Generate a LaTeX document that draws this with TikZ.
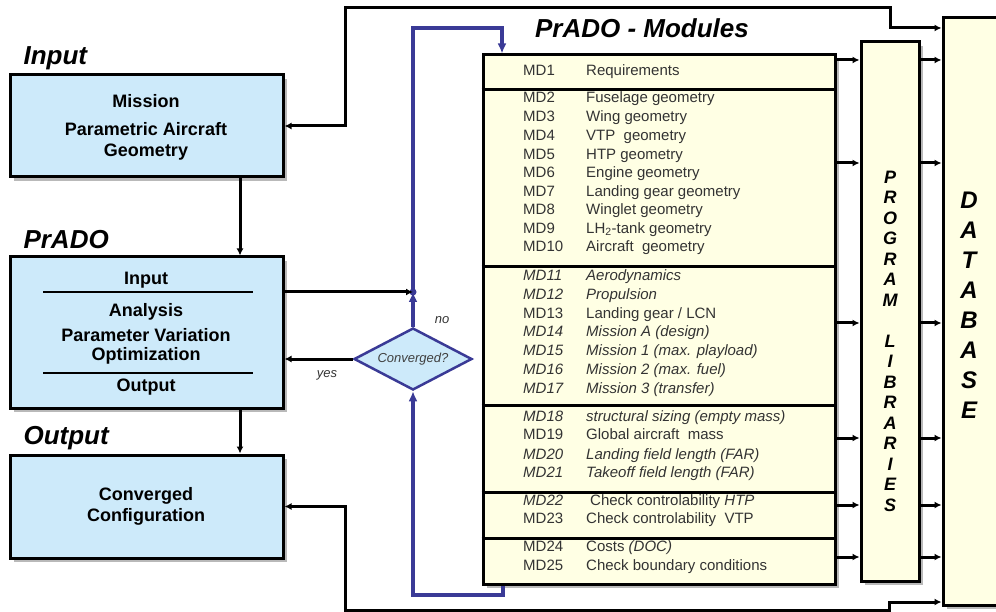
\documentclass[tikz,border=0pt]{standalone}
\usepackage{fontspec}
\setmainfont{Liberation Sans}
\usetikzlibrary{arrows.meta,shapes.geometric,shadows}
\definecolor{boxblue}{RGB}{205,234,250}
\definecolor{boxyellow}{RGB}{255,255,228}
\definecolor{loopblue}{RGB}{58,58,150}
\begin{document}
\begin{tikzpicture}[x=1pt,y=-1pt,
    shadowed/.style={drop shadow={shadow xshift=4pt,shadow yshift=-4pt,fill=black!55}},
    bluebox/.style={draw,line width=3pt,fill=boxblue,minimum width=273pt,shadowed},
    yellowbox/.style={draw,line width=3pt,fill=boxyellow,shadowed},
    grouplabel/.style={font=\fontsize{26}{28}\selectfont\bfseries\itshape,anchor=west},
    boxtext/.style={font=\fontsize{18}{20}\selectfont\bfseries},
    mdtext/.style={font=\fontsize{15}{17}\selectfont,text=black!80,anchor=west,inner sep=0pt,text height=10pt,text depth=3pt},
    libletter/.style={font=\fontsize{18}{20}\selectfont\bfseries\itshape},
    dbletter/.style={font=\fontsize{24}{26}\selectfont\bfseries\itshape},
    note/.style={font=\fontsize{13}{15}\selectfont\itshape,text=black!80},
    link/.style={line width=3pt,-{Latex[length=7pt,width=7pt]}},
    twolink/.style={line width=3pt,{Latex[length=7pt,width=7pt]}-{Latex[length=7pt,width=7pt]}},
    bluelink/.style={draw=loopblue,line width=4pt,-{Latex[length=10pt,width=9pt]}}]
  \useasboundingbox (0,0) rectangle (996,612);
  \clip (0,0) rectangle (996,612);
  % left column
  \node[grouplabel] (lblin) at (20,58) {Input};
  \node[bluebox,minimum height=102pt] (inbox) at (146.5,126) {};
  \node[boxtext] (mission) at (146,101) {Mission};
  \node[boxtext] (param) at (146,129) {Parametric Aircraft};
  \node[boxtext] (geom) at (146,152) {Geometry};

  \node[grouplabel] (lblprado) at (20,240) {PrADO};
  \node[bluebox,minimum height=151pt] (pradobox) at (146.5,332.5) {};
  \node[boxtext] (pin) at (146,280) {Input};
  \draw[line width=1.4pt] (43,292) -- (253,292);
  \node[boxtext] (anal) at (146,312) {Analysis};
  \node[boxtext] (pvar) at (146,335) {Parameter Variation};
  \node[boxtext] (opti) at (146,356) {Optimization};
  \draw[line width=1.4pt] (43,373) -- (253,373);
  \node[boxtext] (pout) at (146,387) {Output};

  \node[grouplabel] (lblout) at (20,438) {Output};
  \node[bluebox,minimum height=103pt] (outbox) at (146.5,506.5) {};
  \node[boxtext] (conv1) at (146,496) {Converged};
  \node[boxtext] (conv2) at (146,517) {Configuration};

  % vertical flow
  \coordinate (vx) at (240,0);
  \draw[link] (inbox.south -| vx) -- (pradobox.north -| vx);
  \draw[link] (pradobox.south -| vx) -- (outbox.north -| vx);

  % modules
  \node[grouplabel,anchor=center] (lblmod) at (642,28) {PrADO - Modules};
  \node[yellowbox,minimum width=352pt,minimum height=529pt] (modules) at (659,319.5) {};
  \foreach \y in {90,267,405,492,538}
    \draw[line width=3pt] (modules.west |- 0,\y) -- (modules.east |- 0,\y);
  \foreach \y/\md/\txt [count=\i] in {
      72/MD1/Requirements,
      99/MD2/Fuselage geometry,
      118/MD3/Wing geometry,
      137/MD4/VTP\ \ geometry,
      156/MD5/HTP geometry,
      174/MD6/Engine geometry,
      193/MD7/Landing gear geometry,
      211/MD8/Winglet geometry,
      230/MD9/LH\textsubscript{2}-tank geometry,
      248/MD10/Aircraft\ \ geometry,
      277/{\itshape MD11}/{\itshape Aerodynamics},
      296/{\itshape MD12}/{\itshape Propulsion},
      315/MD13/{Landing gear / LCN},
      333/{\itshape MD14}/{\itshape Mission A (design)},
      352/{\itshape MD15}/{\itshape Mission 1 (max. playload)},
      371/{\itshape MD16}/{\itshape Mission 2 (max. fuel)},
      390/{\itshape MD17}/{\itshape Mission 3 (transfer)},
      418/{\itshape MD18}/{\itshape structural sizing (empty mass)},
      436/MD19/Global aircraft\ \ mass,
      456/{\itshape MD20}/{\itshape Landing field length (FAR)},
      474/{\itshape MD21}/{\itshape Takeoff field length (FAR)},
      502/{\itshape MD22}/{\hspace{4pt}Check controlability \textit{HTP}},
      520/MD23/Check controlability\ \ VTP,
      548/MD24/Costs \textit{(DOC)},
      567/MD25/Check boundary conditions} {
    \node[mdtext] (md\i) at (523,\y) {\md};
    \node[mdtext] (mt\i) at (586,\y) {\txt};
  }

  % libraries and database
  \node[yellowbox,minimum width=58pt,minimum height=539pt] (proglib) at (890,311.5) {};
  \foreach \c [count=\i] in {P,R,O,G,R,A,M,{},L,I,B,R,A,R,I,E,S}
    \node[libletter] (pl\i) at (890,{177+20.5*(\i-1)}) {\c};
  \node[yellowbox,minimum width=67pt,minimum height=587pt] (database) at (976.5,311.5) {};
  \foreach \c [count=\i] in {D,A,T,A,B,A,S,E}
    \node[dbletter] (db\i) at (969,{200+30*(\i-1)}) {\c};
  \foreach \y in {60,163,323,438,505,557} {
    \draw[link] (modules.east |- 0,\y) -- (proglib.west |- 0,\y);
    \draw[link] (proglib.east |- 0,\y) -- (database.west |- 0,\y);
  }

  % database links
  \draw[twolink] (inbox.east) -| (345,8) -| (890,28) -- (database.west |- 0,28);
  \draw[twolink] (outbox.east) -| (345,610) -| (889,602) -- (database.west |- 0,602);

  % convergence loop
  \node[diamond,aspect=2,draw=loopblue,line width=2.5pt,fill=boxblue,minimum width=118pt,minimum height=62pt,inner sep=0pt,
        font=\fontsize{13}{15}\selectfont\itshape,text=black!75] (conv) at (413,359) {Converged?};
  \coordinate (jn) at (413,292);
  \draw[bluelink] (modules.south -| 503,0) |- (413,595) -- (conv.south);
  \draw[bluelink] (conv.north) -- (jn);
  \draw[bluelink] (jn) -- (413,28) -| (modules.north -| 502,0);
  \fill[loopblue] (jn) circle (3.5pt);
  \draw[link] (pradobox.east |- jn) -- (jn);
  \draw[link] (conv.west) -- (pradobox.east |- conv.west);
  \node[note] (no) at (442,320) {no};
  \node[note] (yes) at (327,375) {yes};
\end{tikzpicture}
\end{document}
